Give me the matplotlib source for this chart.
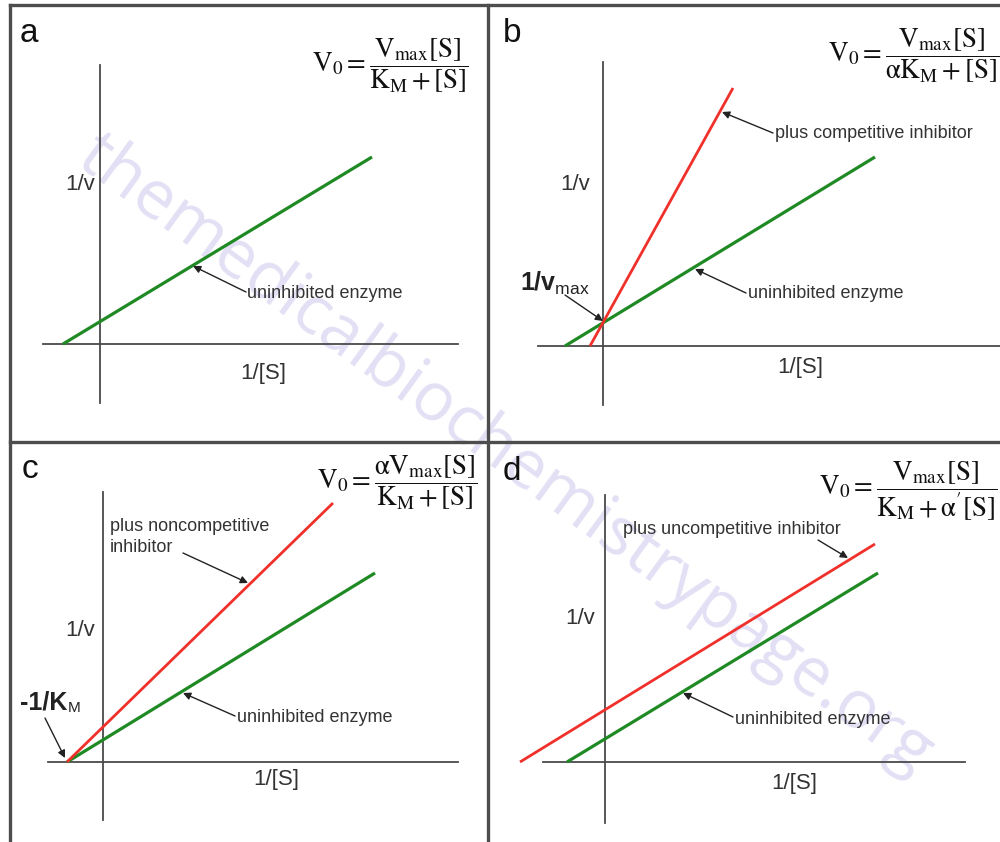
import matplotlib
matplotlib.use('Agg')
import matplotlib.pyplot as plt
from matplotlib.lines import Line2D

# ---------------- data (x = 1/[S], y = 1/v, arbitrary units) ----------------
panel_labels = ['a', 'b', 'c', 'd']
x_axis_label = '1/[S]'
y_axis_label = '1/v'
uninhibited_label = 'uninhibited enzyme'
inhibitor_labels = [None, 'plus competitive inhibitor',
                    'plus noncompetitive\ninhibitor',
                    'plus uncompetitive inhibitor']
watermark = 'themedicalbiochemistrypage.org'

equations = [
    r'$\mathrm{V}_0 = \dfrac{\mathrm{V}_{\mathrm{max}}[\mathrm{S}]}{\mathrm{K}_{\mathrm{M}} + [\mathrm{S}]}$',
    r'$\mathrm{V}_0 = \dfrac{\mathrm{V}_{\mathrm{max}}[\mathrm{S}]}{\mathrm{αK}_{\mathrm{M}} + [\mathrm{S}]}$',
    r'$\mathrm{V}_0 = \dfrac{\mathrm{αV}_{\mathrm{max}}[\mathrm{S}]}{\mathrm{K}_{\mathrm{M}} + [\mathrm{S}]}$',
    r"$\mathrm{V}_0 = \dfrac{\mathrm{V}_{\mathrm{max}}[\mathrm{S}]}{\mathrm{K}_{\mathrm{M}} + \mathrm{α'}[\mathrm{S}]}$",
]

# uninhibited enzyme line (endpoints)
green_x = [[-0.37, 2.72], [-0.38, 2.72], [-0.36, 2.72], [-0.38, 2.73]]
green_y = [[0.00, 1.87], [0.00, 1.89], [0.00, 1.89], [0.00, 1.89]]
# line with inhibitor
red_x = [None, [-0.13, 1.30], [-0.36, 2.30], [-0.85, 2.70]]
red_y = [None, [0.00, 2.58], [0.00, 2.59], [0.00, 2.18]]

# axis extents
x_axis_ext = [(-0.57, 3.58), (-0.65, 4.20), (-0.55, 3.55), (-0.62, 3.60)]
y_axis_ext = [(-0.59, 2.79), (-0.59, 2.84), (-0.58, 2.70), (-0.61, 2.67)]

# annotation points (tip on line, text anchor, arrow tail)
green_tip = [(0.93, 0.78), (0.92, 0.77), (0.80, 0.69), (0.78, 0.69)]
green_txt = [(1.47, 0.50), (1.45, 0.52), (1.34, 0.44), (1.30, 0.43)]
green_tail = [(1.46, 0.52), (1.43, 0.53), (1.32, 0.46), (1.28, 0.45)]
red_tip = [None, (1.19, 2.34), (1.45, 1.79), (2.43, 2.04)]
red_txt = [None, (1.72, 2.12), (0.07, 2.44), (0.18, 2.33)]
red_tail = [None, (1.70, 2.13), (0.80, 2.09), (2.13, 2.22)]

# ---------------- layout ----------------
W, H = 1000, 842
SCALE = 100.0  # pixels per data unit
boxes = [(10, 5, 488, 442), (488, 5, 1000, 442), (10, 442, 488, 842), (488, 442, 1000, 842)]
origins = [(100, 344), (603, 346), (103, 762), (605, 762)]
ylab_pos = [(-0.05, 1.59), (-0.13, 1.61), (-0.08, 1.32), (-0.10, 1.44)]
xlab_pos = [(1.63, -0.29), (1.97, -0.21), (1.73, -0.18), (1.89, -0.21)]
letter_pos = [(-0.80, 3.02), (-1.00, 3.04), (-0.81, 2.84), (-1.02, 2.82)]
eq_pos = [(3.69, 2.78, 'right'), (3.96, 2.90, 'right'), (3.75, 2.79, 'right'), (3.93, 2.71, 'right')]

GREEN = '#1f8a24'
RED = '#f0302a'
AXC = '#4a4a4a'
TXT = '#333333'

plt.rcParams['font.family'] = ['Liberation Sans', 'DejaVu Sans']
plt.rcParams['mathtext.fontset'] = 'custom'
plt.rcParams['mathtext.rm'] = 'Liberation Sans'
plt.rcParams['mathtext.bf'] = 'Liberation Sans:bold'
plt.rcParams['mathtext.it'] = 'Liberation Sans:italic'

fig = plt.figure(figsize=(W / 100, H / 100), dpi=100)
fig.patch.set_facecolor('white')

# background layer with watermark (drawn under the panels)
bg = fig.add_axes([0, 0, 1, 1], zorder=-5)
bg.set_axis_off()
bg.set_xlim(0, 1)
bg.set_ylim(0, 1)
bg.text(505 / W, 1 - 455 / H, watermark, rotation=-36,
        rotation_mode='anchor', ha='center', va='center', fontsize=49,
        family=['Open Sans', 'DejaVu Sans'], color='#e3dff4')

arrow_kw = dict(arrowstyle='-|>', color='#222222', lw=1.0, mutation_scale=11,
                shrinkA=0, shrinkB=0)

for i in range(4):
    x0, y0, x1, y1 = boxes[i]
    ox, oy = origins[i]
    ax = fig.add_axes([x0 / W, 1 - y1 / H, (x1 - x0) / W, (y1 - y0) / H])
    ax.set_xlim((x0 - ox) / SCALE, (x1 - ox) / SCALE)
    ax.set_ylim((oy - y1) / SCALE, (oy - y0) / SCALE)
    ax.patch.set_alpha(0)
    ax.set_xticks([])
    ax.set_yticks([])
    for s in ('top', 'right'):
        ax.spines[s].set_visible(False)
    ax.spines['left'].set_position(('data', 0))
    ax.spines['bottom'].set_position(('data', 0))
    ax.spines['left'].set_bounds(*y_axis_ext[i])
    ax.spines['bottom'].set_bounds(*x_axis_ext[i])
    for s in ('left', 'bottom'):
        ax.spines[s].set_color(AXC)
        ax.spines[s].set_linewidth(1.3)

    # lines
    ax.plot(green_x[i], green_y[i], color=GREEN, lw=2.3, solid_capstyle='butt', zorder=3)
    if red_x[i] is not None:
        ax.plot(red_x[i], red_y[i], color=RED, lw=2.0, solid_capstyle='butt', zorder=3)

    # axis labels
    ax.text(*ylab_pos[i], y_axis_label, ha='right', va='center', fontsize=16, color=TXT)
    ax.text(*xlab_pos[i], x_axis_label, ha='center', va='center', fontsize=16, color=TXT)

    # panel letter
    ax.text(*letter_pos[i], panel_labels[i], ha='left', va='baseline', fontsize=24, color='#111111')

    # equation
    ex, ey, eha = eq_pos[i]
    ax.text(ex, ey, equations[i], ha=eha, va='center', fontsize=19.5, color='#111111',
            math_fontfamily='stix', clip_on=False)

    # uninhibited annotation
    ax.annotate('', xy=green_tip[i], xytext=green_tail[i], arrowprops=arrow_kw)
    ax.text(*green_txt[i], uninhibited_label, ha='left', va='center', fontsize=13, color=TXT)

    if red_x[i] is not None:
        ax.annotate('', xy=red_tip[i], xytext=red_tail[i], arrowprops=arrow_kw)
        va = 'top' if '\n' in inhibitor_labels[i] else 'center'
        ax.text(*red_txt[i], inhibitor_labels[i], ha='left', va=va, fontsize=13,
                color=TXT, linespacing=1.3)

    if i == 1:
        ax.annotate('', xy=(0.0, 0.25), xytext=(-0.38, 0.51), arrowprops=arrow_kw)
        ax.text(-0.83, 0.63, r'$\mathbf{1/v}_{\mathrm{max}}$', ha='left', va='center',
                fontsize=18, color='#222222')
    if i == 2:
        ax.annotate('', xy=(-0.38, 0.04), xytext=(-0.58, 0.44), arrowprops=arrow_kw)
        t = ax.text(-0.83, 0.59, '-1/K', ha='left', va='center', fontsize=18,
                    fontweight='bold', color='#222222')
        ax.annotate('M', xy=(1.0, 0.0), xycoords=t, ha='left', va='bottom',
                    fontsize=11, color='#222222')

# panel frame lines
frame = [((10, 5), (1000, 5)), ((10, 5), (10, 842)), ((488, 5), (488, 842)),
         ((10, 442), (1000, 442))]
for (xa, ya), (xb, yb) in frame:
    fig.add_artist(Line2D([xa / W, xb / W], [1 - ya / H, 1 - yb / H],
                          transform=fig.transFigure, color='#4d4d4d', lw=2.4))

fig.savefig('out.png', dpi=100)
